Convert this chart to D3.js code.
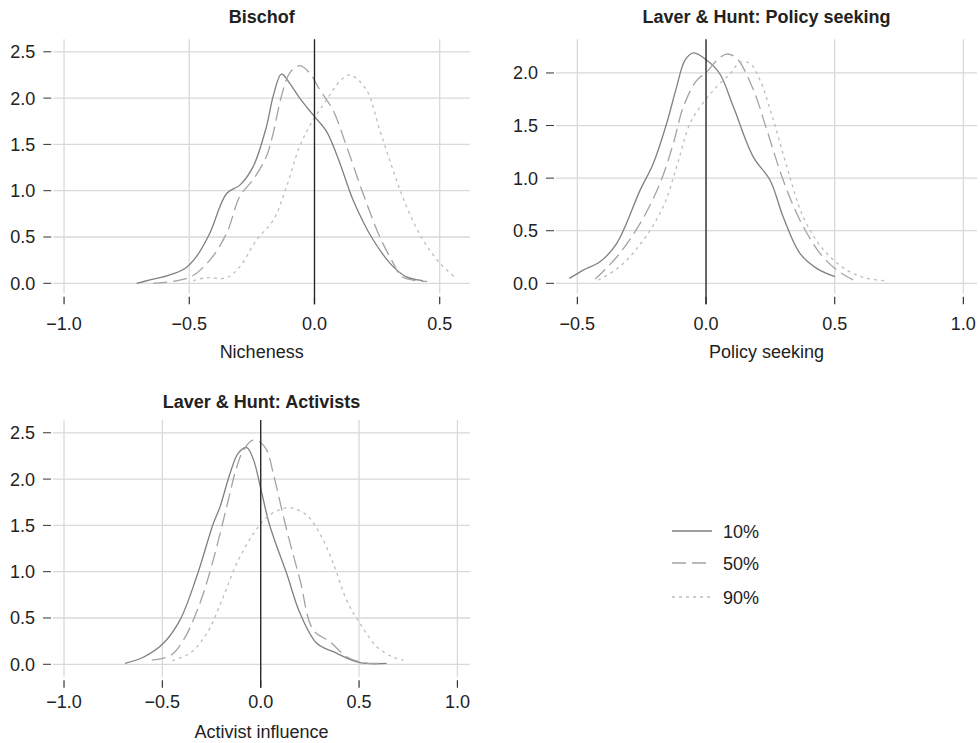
<!DOCTYPE html>
<html>
<head>
<meta charset="utf-8">
<script src="https://cdn.jsdelivr.net/npm/d3@7"></script>
<style>
  body { margin: 0; background: #fff; }
  svg { font-family: "Liberation Sans", Arial, sans-serif; }
</style>
</head>
<body>
<div id="chart"></div>
<script>
// density curves, [x, density]
var bischof10 = [[-0.71,0],[-0.657,0.036],[-0.59,0.08],[-0.517,0.16],[-0.471,0.29],[-0.418,0.54],[-0.351,0.97],[-0.298,1.06],[-0.245,1.26],[-0.192,1.69],[-0.165,2.02],[-0.132,2.26],[-0.099,2.16],[-0.059,2.0],[-0.006,1.82],[0.048,1.64],[0.101,1.30],[0.154,0.90],[0.234,0.47],[0.314,0.18],[0.367,0.07],[0.433,0.03]];
var bischof50 = [[-0.644,0],[-0.498,0.065],[-0.418,0.25],[-0.351,0.54],[-0.298,0.94],[-0.245,1.12],[-0.192,1.37],[-0.165,1.62],[-0.132,2.02],[-0.099,2.27],[-0.059,2.35],[-0.019,2.27],[0.021,2.09],[0.074,1.87],[0.128,1.48],[0.194,0.97],[0.261,0.50],[0.314,0.22],[0.345,0.08],[0.40,0.03],[0.45,0.02]];
var bischof90 = [[-0.484,0.03],[-0.431,0.06],[-0.351,0.06],[-0.298,0.18],[-0.231,0.47],[-0.165,0.68],[-0.112,1.04],[-0.059,1.48],[-0.006,1.76],[0.048,1.98],[0.101,2.18],[0.141,2.25],[0.207,2.09],[0.261,1.65],[0.314,1.22],[0.367,0.83],[0.433,0.47],[0.50,0.22],[0.567,0.05]];

var policy10 = [[-0.531,0.047],[-0.477,0.126],[-0.412,0.205],[-0.347,0.38],[-0.256,0.886],[-0.205,1.14],[-0.153,1.52],[-0.114,1.87],[-0.082,2.12],[-0.049,2.19],[0.003,2.12],[0.054,1.99],[0.106,1.68],[0.184,1.20],[0.249,0.98],[0.30,0.63],[0.365,0.285],[0.43,0.142],[0.501,0.063]];
var policy50 = [[-0.431,0.04],[-0.347,0.25],[-0.256,0.57],[-0.179,0.95],[-0.127,1.33],[-0.088,1.68],[-0.036,1.93],[0.003,2.01],[0.042,2.12],[0.080,2.18],[0.119,2.14],[0.184,1.84],[0.236,1.46],[0.30,0.98],[0.365,0.60],[0.443,0.285],[0.508,0.126],[0.573,0.03]];
var policy90 = [[-0.419,0.03],[-0.334,0.16],[-0.244,0.41],[-0.166,0.73],[-0.114,1.11],[-0.062,1.52],[-0.010,1.72],[0.042,1.87],[0.093,1.99],[0.132,2.10],[0.171,2.09],[0.21,1.93],[0.262,1.55],[0.314,1.11],[0.378,0.63],[0.456,0.32],[0.547,0.126],[0.625,0.047],[0.702,0.025]];

var activ10 = [[-0.69,0.01],[-0.597,0.076],[-0.495,0.227],[-0.41,0.48],[-0.325,0.95],[-0.241,1.52],[-0.207,1.70],[-0.156,2.06],[-0.114,2.28],[-0.071,2.34],[-0.037,2.21],[0.002,1.88],[0.047,1.49],[0.132,0.98],[0.20,0.55],[0.285,0.227],[0.369,0.136],[0.505,0.017],[0.64,0.01]];
var activ50 = [[-0.554,0.046],[-0.461,0.09],[-0.393,0.26],[-0.309,0.66],[-0.241,1.13],[-0.173,1.70],[-0.122,2.13],[-0.088,2.31],[-0.041,2.42],[-0.004,2.40],[0.031,2.31],[0.064,2.06],[0.132,1.45],[0.20,0.91],[0.267,0.37],[0.352,0.244],[0.437,0.082],[0.522,0.017],[0.606,0.01]];
var activ90 = [[-0.45,0.04],[-0.36,0.12],[-0.275,0.33],[-0.19,0.73],[-0.122,1.09],[-0.037,1.41],[0.031,1.59],[0.098,1.67],[0.149,1.69],[0.234,1.61],[0.301,1.41],[0.369,1.09],[0.437,0.69],[0.505,0.44],[0.59,0.19],[0.674,0.076],[0.725,0.046]];

var seriesNames = ["10%", "50%", "90%"];
var titles = ["Bischof", "Laver & Hunt: Policy seeking", "Laver & Hunt: Activists"];
var xLabels = ["Nicheness", "Policy seeking", "Activist influence"];
var xTicks1 = [-1.0, -0.5, 0.0, 0.5];
var xTicks2 = [-0.5, 0.0, 0.5, 1.0];
var xTicks3 = [-1.0, -0.5, 0.0, 0.5, 1.0];
var yTicks1 = [0, 0.5, 1.0, 1.5, 2.0, 2.5];
var yTicks2 = [0, 0.5, 1.0, 1.5, 2.0];

var styles = [
  { color: "#808080", dash: null },
  { color: "#a3a3a3", dash: "14,6" },
  { color: "#bdbdbd", dash: "3,4" }
];

var panels = [
  { title: titles[0], xlab: xLabels[0], data: [bischof10, bischof50, bischof90], xt: xTicks1, yt: yTicks1,
    xd: [-1.043, 0.621], yd: [-0.108, 2.635], left: 53.3, right: 470, top: 39.3, bottom: 293.3,
    titleY: 23, tickY: 330, labY: 358 },
  { title: titles[1], xlab: xLabels[1], data: [policy10, policy50, policy90], xt: xTicks2, yt: yTicks2,
    xd: [-0.583, 1.053], yd: [-0.095, 2.32], left: 556, right: 977, top: 39.3, bottom: 293.3,
    titleY: 23, tickY: 330, labY: 358 },
  { title: titles[2], xlab: xLabels[2], data: [activ10, activ50, activ90], xt: xTicks3, yt: yTicks1,
    xd: [-1.056, 1.064], yd: [-0.134, 2.638], left: 53, right: 470, top: 420, bottom: 676.7,
    titleY: 408, tickY: 708, labY: 738 }
];

var svg = d3.select("#chart").append("svg")
  .attr("width", 980)
  .attr("height", 743);

var fmt = function(d) { return d3.format(".1f")(d).replace("-", "\u2212"); };

panels.forEach(function(p) {
  var x = d3.scaleLinear().domain(p.xd).range([p.left, p.right]);
  var y = d3.scaleLinear().domain(p.yd).range([p.bottom, p.top]);
  var g = svg.append("g");

  // grid
  g.selectAll(".hg").data(p.yt).enter().append("line")
    .attr("x1", p.left).attr("x2", p.right)
    .attr("y1", function(d) { return y(d); }).attr("y2", function(d) { return y(d); })
    .style("stroke", "#d9d9d9").style("stroke-width", 1.3);
  g.selectAll(".vg").data(p.xt).enter().append("line")
    .attr("x1", function(d) { return x(d); }).attr("x2", function(d) { return x(d); })
    .attr("y1", p.top).attr("y2", p.bottom)
    .style("stroke", "#d9d9d9").style("stroke-width", 1.3);

  // y ticks + labels
  g.selectAll(".yt").data(p.yt).enter().append("line")
    .attr("x1", p.left - 10).attr("x2", p.left - 2)
    .attr("y1", function(d) { return y(d); }).attr("y2", function(d) { return y(d); })
    .style("stroke", "#333").style("stroke-width", 1);
  g.selectAll(".yl").data(p.yt).enter().append("text")
    .attr("x", p.left - 18).attr("y", function(d) { return y(d) + 6.5; })
    .attr("text-anchor", "end").style("font-size", "18px").style("fill", "#222")
    .text(function(d) { return d3.format(".1f")(d); });

  // x ticks + labels
  g.selectAll(".xt").data(p.xt).enter().append("line")
    .attr("x1", function(d) { return x(d); }).attr("x2", function(d) { return x(d); })
    .attr("y1", p.bottom + 3.5).attr("y2", p.bottom + 11)
    .style("stroke", "#333").style("stroke-width", 1.2);
  g.selectAll(".xl").data(p.xt).enter().append("text")
    .attr("x", function(d) { return x(d); }).attr("y", p.tickY)
    .attr("text-anchor", "middle").style("font-size", "18px").style("fill", "#222")
    .text(fmt);

  // curves
  var line = d3.line()
    .x(function(d) { return x(d[0]); })
    .y(function(d) { return y(d[1]); })
    .curve(d3.curveCatmullRom.alpha(0.5));
  p.data.forEach(function(s, i) {
    g.append("path").datum(s)
      .attr("d", line)
      .style("fill", "none")
      .style("stroke", styles[i].color)
      .style("stroke-width", 1.3)
      .style("stroke-dasharray", styles[i].dash);
  });

  // zero line
  g.append("line")
    .attr("x1", x(0)).attr("x2", x(0))
    .attr("y1", p.top).attr("y2", p.bottom + 11)
    .style("stroke", "#222").style("stroke-width", 1.3);

  // title, axis label
  g.append("text")
    .attr("x", (p.left + p.right) / 2).attr("y", p.titleY)
    .attr("text-anchor", "middle").style("font-size", "18px").style("font-weight", "bold")
    .style("fill", "#222").text(p.title);
  g.append("text")
    .attr("x", (p.left + p.right) / 2).attr("y", p.labY)
    .attr("text-anchor", "middle").style("font-size", "18px")
    .style("fill", "#222").text(p.xlab);
});

// legend
var legendY = [531, 563, 597];
var lg = svg.append("g");
seriesNames.forEach(function(name, i) {
  lg.append("line")
    .attr("x1", 672).attr("x2", 712)
    .attr("y1", legendY[i]).attr("y2", legendY[i])
    .style("stroke", styles[i].color).style("stroke-width", 1.3)
    .style("stroke-dasharray", styles[i].dash);
  lg.append("text")
    .attr("x", 723).attr("y", legendY[i] + 6.5)
    .style("font-size", "18px").style("fill", "#222")
    .text(name);
});
</script>
</body>
</html>
